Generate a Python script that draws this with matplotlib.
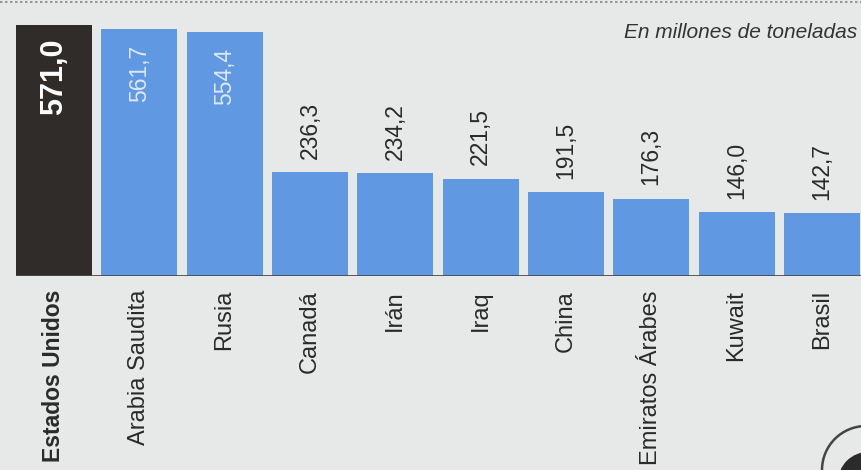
import numpy as np
import matplotlib.pyplot as plt
from matplotlib.lines import Line2D
from matplotlib.patches import Circle

paises = ['Estados Unidos', 'Arabia Saudita', 'Rusia', 'Canadá', 'Irán', 'Iraq',
          'China', 'Emiratos Árabes', 'Kuwait', 'Brasil']
valores = [571.0, 561.7, 554.4, 236.3, 234.2, 221.5, 191.5, 176.3, 146.0, 142.7]
etiquetas = ['571,0', '561,7', '554,4', '236,3', '234,2', '221,5', '191,5', '176,3', '146,0', '142,7']

fondo = '#e7e9e9'
azul = '#6198e2'
oscuro = '#2f2c2a'
fuente = ['Liberation Sans Narrow', 'Liberation Sans', 'DejaVu Sans']

fig = plt.figure(figsize=(8.62, 4.70), dpi=100)
fig.patch.set_facecolor(fondo)
ax = fig.add_axes([16 / 862, 194 / 470, 846 / 862, 276 / 470])
ax.set_facecolor(fondo)

x = np.arange(len(paises))
colores = [oscuro] + [azul] * (len(paises) - 1)
ax.bar(x, valores, width=0.89, color=colores, zorder=2)

ax.set_xlim(-0.445, 9.47)
ax.set_ylim(0, 628)
for s in ax.spines.values():
    s.set_visible(False)
ax.set_xticks([])
ax.set_yticks([])
ax.axhline(0, color='#4a4a4a', lw=2, zorder=3)

# valores
for i, v in enumerate(valores):
    if i == 0:
        ax.text(i, v - 30, etiquetas[i], rotation=90, ha='center', va='top',
                color='white', fontsize=22, fontweight='bold', family=fuente)
    elif v > 400:
        ax.text(i, v - 36, etiquetas[i], rotation=90, ha='center', va='top',
                color='#dce8f7', fontsize=16.5, family=fuente)
    else:
        ax.text(i, v + 30, etiquetas[i], rotation=90, ha='center', va='bottom',
                color='#2a2a2a', fontsize=16.5, family=fuente)

# paises
for i, p in enumerate(paises):
    ax.text(i, -32, p, rotation=90, ha='center', va='top', color='#2a2a2a',
            fontsize=16.5 if i == 0 else 17, fontweight='bold' if i == 0 else 'normal',
            family=fuente)

fig.text(857 / 862, 1 - 33 / 470, 'En millones de toneladas', ha='right', va='center',
         fontsize=15, style='italic', color='#333333', family=fuente)

fig.add_artist(Line2D([0, 1], [1 - 2 / 470, 1 - 2 / 470], transform=fig.transFigure,
                      color='#888888', lw=1.2, ls=(0, (1.5, 1.5))))

# logo cortado abajo a la derecha
fig.add_artist(Circle((866, 0), 44, transform=None, fill=False, ec='#444444', lw=1.8))
fig.add_artist(Circle((868, -12), 30, transform=None, fc='#2b2b2b', ec='none'))

fig.savefig('out.png', dpi=100, facecolor=fondo)
